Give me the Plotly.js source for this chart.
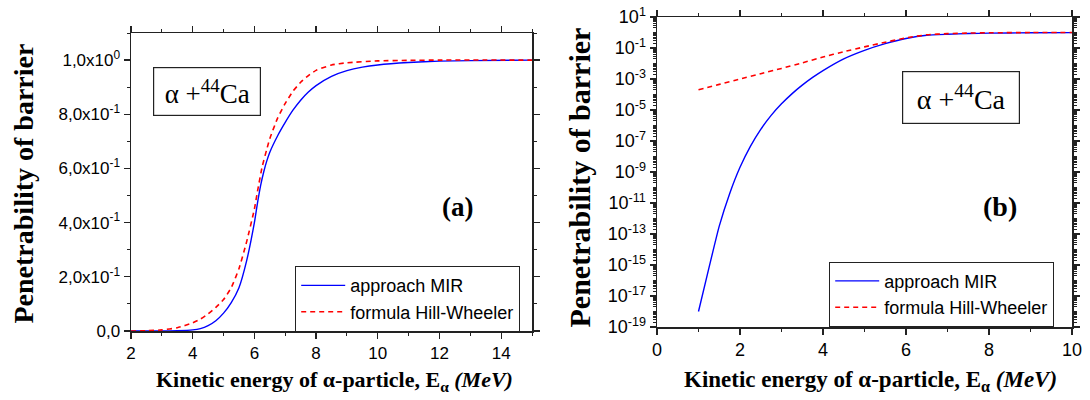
<!DOCTYPE html>
<html>
<head>
<meta charset="utf-8">
<script src="https://cdn.plot.ly/plotly-3.0.1.min.js"></script>
<style>html,body{margin:0;padding:0;background:#fff;}#chart{width:1090px;height:400px;}</style>
</head>
<body>
<div id="chart"></div>
<script>
// ---- Panel (a): linear scale ----
var aEnergy = [2, 3, 3.5, 4, 4.25, 4.5, 4.75, 5, 5.25, 5.5, 5.75, 6, 6.1, 6.2, 6.3, 6.4, 6.5, 6.75, 7, 7.25, 7.5, 7.75, 8, 8.5, 9, 9.5, 10, 11, 12, 13, 15];
var aMIR    = [0, 0.0003, 0.001, 0.004, 0.009, 0.02, 0.038, 0.066, 0.105, 0.16, 0.26, 0.40, 0.472, 0.536, 0.586, 0.627, 0.66, 0.72, 0.77, 0.815, 0.852, 0.882, 0.906, 0.94, 0.961, 0.974, 0.982, 0.991, 0.996, 0.998, 1.0];
var aHWEnergy = [2, 2.5, 3, 3.5, 4, 4.25, 4.5, 4.75, 5, 5.25, 5.5, 5.75, 6, 6.1, 6.25, 6.4, 6.5, 6.75, 7, 7.25, 7.5, 7.75, 8, 8.5, 9, 10, 11, 12, 15];
var aHW       = [0, 0.001, 0.004, 0.012, 0.03, 0.044, 0.063, 0.087, 0.116, 0.16, 0.23, 0.33, 0.45, 0.515, 0.605, 0.67, 0.71, 0.785, 0.84, 0.885, 0.918, 0.943, 0.962, 0.982, 0.99, 0.997, 0.999, 1.0, 1.0];

// ---- Panel (b): log scale ----
var bEnergy = [1, 1.25, 1.5, 1.75, 2, 2.25, 2.5, 2.75, 3, 3.25, 3.5, 3.75, 4, 4.5, 5, 5.5, 6, 6.5, 7, 7.5, 8, 9, 10];
var bMIR    = [1.0e-18, 6.3e-16, 3.2e-13, 4.0e-11, 2.0e-9, 4.5e-8, 5.6e-7, 4.5e-6, 2.5e-5, 1.1e-4, 4.0e-4, 1.26e-3, 3.5e-3, 0.02, 0.071, 0.19, 0.41, 0.66, 0.77, 0.855, 0.905, 0.962, 0.983];
var bHWEnergy = [1, 1.5, 2, 2.5, 3, 3.5, 4, 4.5, 5, 5.5, 6, 6.5, 7, 7.5, 8, 9, 10];
var bHW       = [2.0e-4, 4.5e-4, 1.0e-3, 2.2e-3, 4.8e-3, 0.011, 0.026, 0.058, 0.118, 0.235, 0.45, 0.71, 0.84, 0.918, 0.962, 0.99, 0.997];

var seriesNames = ['approach MIR', 'formula Hill-Wheeler'];

// tick labels
var aYTickVals = [0, 0.2, 0.4, 0.6, 0.8, 1.0];
var aYTickText = ['0,0', '2,0x10<sup>-1</sup>', '4,0x10<sup>-1</sup>', '6,0x10<sup>-1</sup>', '8,0x10<sup>-1</sup>', '1,0x10<sup>0</sup>'];
var bYExponents = [1, -1, -3, -5, -7, -9, -11, -13, -15, -17, -19];

var bYTickVals = bYExponents.map(function (e) { return Math.pow(10, e); });
var bYTickText = bYExponents.map(function (e) { return '10<sup>' + e + '</sup>'; });
var bMinorVals = [];
for (var d = -19; d <= 0; d++) {
  for (var k = 1; k <= 9; k++) {
    if (k === 1 && bYExponents.indexOf(d) >= 0) continue;
    bMinorVals.push(k * Math.pow(10, d));
  }
}

var SANS = 'Liberation Sans, Arial, sans-serif';
var SERIF = 'Liberation Serif, Times New Roman, serif';
var axisCommon = {
  showline: true, linecolor: '#222', linewidth: 1.5, mirror: 'ticks',
  ticks: 'outside', ticklen: 6, tickwidth: 1.2, tickcolor: '#222',
  showgrid: false, zeroline: false
};
function merge(a, b) { var o = {}; for (var k in a) o[k] = a[k]; for (var k2 in b) o[k2] = b[k2]; return o; }
function minorLin(dt, t0) { return {ticks: 'outside', ticklen: 3, dtick: dt, tick0: t0, tickcolor: '#222', tickwidth: 1}; }

var blue = '#0000ff', red = '#ff0000';
var blueLine = {color: blue, width: 1.4, shape: 'spline', smoothing: 0.5};
var redLine = {color: red, width: 1.6, dash: '5px,4px', shape: 'spline', smoothing: 0.5};
var traces = [
  {x: aEnergy, y: aMIR, name: seriesNames[0], type: 'scatter', mode: 'lines', line: blueLine, xaxis: 'x', yaxis: 'y', legend: 'legend'},
  {x: aHWEnergy, y: aHW, name: seriesNames[1], type: 'scatter', mode: 'lines', line: redLine, xaxis: 'x', yaxis: 'y', legend: 'legend'},
  {x: bEnergy, y: bMIR, name: seriesNames[0], type: 'scatter', mode: 'lines', line: blueLine, xaxis: 'x2', yaxis: 'y2', legend: 'legend2'},
  {x: bHWEnergy, y: bHW, name: seriesNames[1], type: 'scatter', mode: 'lines', line: redLine, xaxis: 'x2', yaxis: 'y2', legend: 'legend2'}
];

var xTitle = 'Kinetic energy of α-particle, E<sub>α</sub> <i>(MeV)</i>';
var yTitle = 'Penetrability of barrier';
var legendCommon = {
  bgcolor: '#fff', bordercolor: '#222', borderwidth: 1.2,
  font: {family: SANS, size: 18, color: '#000'},
  xanchor: 'left', yanchor: 'top', itemwidth: 44, tracegroupgap: 0
};

function note(x, y, text, font, extra) {
  return merge({xref: 'paper', yref: 'paper', x: x / 1090, y: 1 - y / 400, xanchor: 'center', yanchor: 'middle', showarrow: false, text: text, font: font}, extra || {});
}

var layout = {
  width: 1090, height: 400,
  margin: {l: 0, r: 0, t: 0, b: 0},
  paper_bgcolor: '#fff', plot_bgcolor: '#fff',
  showlegend: true,
  xaxis: merge(axisCommon, {domain: [131/1090, 532/1090], range: [2, 15], tickmode: 'linear', tick0: 2, dtick: 2,
             tickfont: {family: SANS, size: 17, color: '#000'}, minor: minorLin(1, 2), anchor: 'y'}),
  yaxis: merge(axisCommon, {domain: [1 - 331/400, 1 - 33/400], range: [0, 1.1], tickmode: 'array', tickvals: aYTickVals, ticktext: aYTickText,
             tickfont: {family: SANS, size: 17, color: '#000'}, minor: minorLin(0.1, 0), anchor: 'x'}),
  xaxis2: merge(axisCommon, {domain: [657/1090, 1072/1090], range: [0, 10], tickmode: 'linear', tick0: 0, dtick: 2,
             tickfont: {family: SANS, size: 18, color: '#000'}, minor: minorLin(1, 0), anchor: 'y2'}),
  yaxis2: merge(axisCommon, {domain: [1 - 327/400, 1 - 17/400], type: 'log', range: [-19, 1], tickmode: 'array', tickvals: bYTickVals, ticktext: bYTickText,
             tickfont: {family: SANS, size: 18, color: '#000'},
             minor: {ticks: 'outside', ticklen: 3, tickmode: 'array', tickvals: bMinorVals, tickcolor: '#222', tickwidth: 1}, anchor: 'x2'}),
  legend: merge(legendCommon, {x: 295/1090, y: 1 - 266/400}),
  legend2: merge(legendCommon, {x: 829/1090, y: 1 - 261.5/400}),
  annotations: [
    note(334, 381, xTitle, {family: SERIF, size: 22, color: '#000', weight: 'bold'}),
    note(870, 381, xTitle, {family: SERIF, size: 23, color: '#000', weight: 'bold'}),
    note(23, 183.5, yTitle, {family: SERIF, size: 28, color: '#000', weight: 'bold'}, {textangle: -90}),
    note(579, 177.5, yTitle, {family: SERIF, size: 30, color: '#000', weight: 'bold'}, {textangle: -90}),
    note(207, 91.3, 'α +<sup>44</sup>Ca', {family: SERIF, size: 27, color: '#000'},
         {width: 104, height: 45, bordercolor: '#222', borderwidth: 1.2, borderpad: 1, bgcolor: '#fff'}),
    note(961, 97.5, 'α +<sup>44</sup>Ca', {family: SERIF, size: 28, color: '#000'},
         {width: 114, height: 49, bordercolor: '#222', borderwidth: 1.2, borderpad: 1, bgcolor: '#fff'}),
    note(457.5, 206.5, '(a)', {family: SERIF, size: 27, color: '#000', weight: 'bold'}),
    note(999.6, 206.7, '(b)', {family: SERIF, size: 28, color: '#000', weight: 'bold'})
  ]
};

Plotly.newPlot('chart', traces, layout, {displayModeBar: false, staticPlot: true});
</script>
</body>
</html>
